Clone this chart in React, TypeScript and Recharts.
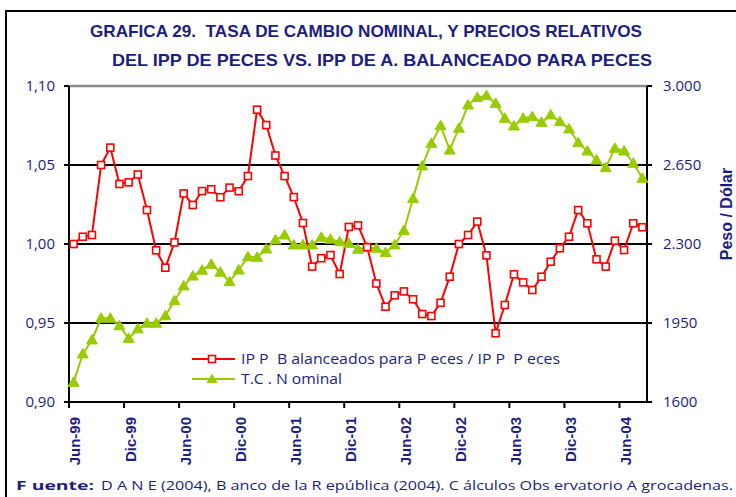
import React from "react"
import { LineChart, Line, XAxis, YAxis, ReferenceLine, Legend } from "recharts"

// IPP Balanceados para Peces / IPP Peces, monthly Jun-99 .. Aug-04
const ratio = [
  1.000, 1.0046, 1.0057, 1.050, 1.061, 1.038, 1.039, 1.044, 1.0215, 0.996,
  0.985, 1.001, 1.032, 1.0247, 1.0335, 1.0346, 1.0296, 1.0357, 1.0334, 1.043,
  1.085, 1.0753, 1.056, 1.043, 1.0297, 1.0133, 0.9857, 0.991, 0.993, 0.981,
  1.0108, 1.0118, 0.998, 0.975, 0.9603, 0.9675, 0.970, 0.965, 0.9557, 0.9544,
  0.9628, 0.9793, 1.000, 1.0057, 1.0142, 0.9928, 0.9435, 0.9614, 0.9808, 0.9757,
  0.9709, 0.9793, 0.9888, 0.9973, 1.0046, 1.0215, 1.0131, 0.9903, 0.9857, 1.0021,
  0.9962, 1.0131, 1.0106,
]

// Tasa de cambio nominal (peso / dólar)
const tcNominal = [
  1687, 1813, 1875, 1971, 1971, 1938, 1882, 1924, 1949, 1949,
  1982, 2049, 2114, 2158, 2184, 2210, 2175, 2133, 2185, 2243,
  2241, 2278, 2318, 2340, 2296, 2296, 2296, 2330, 2321, 2310,
  2303, 2277, 2285, 2281, 2262, 2296, 2360, 2502, 2646, 2746,
  2824, 2716, 2813, 2916, 2949, 2957, 2923, 2857, 2823, 2857,
  2864, 2839, 2872, 2842, 2810, 2749, 2712, 2672, 2638, 2724,
  2712, 2658, 2591,
]

const tickLabels = ["Jun-99", "Dic-99", "Jun-00", "Dic-00", "Jun-01", "Dic-01", "Jun-02", "Dic-02", "Jun-03", "Dic-03", "Jun-04"]
const leftTicks = [0.9, 0.95, 1.0, 1.05, 1.1]
const rightTicks = [1600, 1950, 2300, 2650, 3000]
const rightTickLabels = ["1600", "1950", "2.300", "2.650", "3.000"]

const data = ratio.map((r, i) => ({ x: i + 0.5, ratio: r, tc: tcNominal[i] }))
const xTicks = tickLabels.map((_, k) => k * 6 + 0.5)

const NAVY = "#1d1d82"
const RED = "#ff0000"
const GREEN = "#99cc00"

// plot box in page pixels
const PLOT_L = 69
const PLOT_R = 647
const HALF_CAT = (PLOT_R - PLOT_L) / data.length / 2

const SquareDot = (p: any) => (
  <rect key={`s${p.index}`} x={p.cx - 3.5} y={p.cy - 3.5} width={7} height={7} fill="#fff" stroke={RED} strokeWidth={1.6} />
)

const TriangleDot = (p: any) => (
  <polygon
    key={`t${p.index}`}
    points={`${p.cx},${p.cy - 5.5} ${p.cx - 5.5},${p.cy + 4} ${p.cx + 5.5},${p.cy + 4}`}
    fill={GREEN}
    stroke={GREEN}
    strokeWidth={1}
  />
)

const MonthTick = (props: any) => {
  const { x, y, payload } = props
  const k = Math.round((payload.value - 0.5) / 6)
  return (
    <g>
      <line x1={x - HALF_CAT} y1={y} x2={x - HALF_CAT} y2={y + 6} stroke="#000" strokeWidth={2} />
      <text
        transform={`translate(${x + 1.5},${y + 15}) rotate(-90)`}
        textAnchor="end"
        dy="0.36em"
        fill={NAVY}
        fontSize={15}
        fontWeight="bold"
        fontFamily="'Liberation Sans', Arial, sans-serif"
      >
        {tickLabels[k]}
      </text>
    </g>
  )
}

const LegendBox = () => (
  <svg width={440} height={40} style={{ display: "block", overflow: "visible" }}>
    <line x1={2} y1={8} x2={45} y2={8} stroke={RED} strokeWidth={2} />
    <rect x={18.5} y={4.5} width={7} height={7} fill="#fff" stroke={RED} strokeWidth={1.6} />
    <text x={51} y={13} fill={NAVY} fontSize={14} fontFamily="'Open Sans', sans-serif" textLength={319} lengthAdjust="spacingAndGlyphs" style={{ whiteSpace: "pre" }}>
      IP P  B alanceados para P eces / IP P  P eces
    </text>
    <line x1={2} y1={28} x2={45} y2={28} stroke={GREEN} strokeWidth={2} />
    <polygon points="22,22.5 16.5,32 27.5,32" fill={GREEN} />
    <text x={51} y={33} fill={NAVY} fontSize={14} fontFamily="'Open Sans', sans-serif" textLength={101} lengthAdjust="spacingAndGlyphs">
      T.C . N ominal
    </text>
  </svg>
)

const App = () => {
  return (
    <div style={{ position: "absolute", left: 0, top: 0, width: 736, height: 497, overflow: "hidden", background: "#fff" }}>
      {/* outer frame, cropped on the right and bottom */}
      <div style={{ position: "absolute", left: 5, top: 10, width: 800, height: 600, border: "2.5px solid #000", boxSizing: "border-box" }} />
      <svg width={736} height={497} style={{ position: "absolute", left: 0, top: 0 }}>
        <text x={90} y={37} fill={NAVY} fontSize={17} fontWeight="bold" fontFamily="'Liberation Sans Narrow', 'Liberation Sans', Arial, sans-serif" textLength={552} lengthAdjust="spacingAndGlyphs" style={{ whiteSpace: "pre" }}>
          GRAFICA 29.  TASA DE CAMBIO NOMINAL, Y PRECIOS RELATIVOS
        </text>
        <text x={112} y={66} fill={NAVY} fontSize={17} fontWeight="bold" fontFamily="'Liberation Sans Narrow', 'Liberation Sans', Arial, sans-serif" textLength={540} lengthAdjust="spacingAndGlyphs">
          DEL IPP DE PECES VS. IPP DE A. BALANCEADO PARA PECES
        </text>
        <text x={16} y={490} fill={NAVY} fontSize={13} fontWeight="bold" fontFamily="'Open Sans', sans-serif" textLength={78} lengthAdjust="spacingAndGlyphs">
          F uente:
        </text>
        <text x={101} y={490} fill={NAVY} fontSize={13} fontFamily="'Open Sans', sans-serif" textLength={632} lengthAdjust="spacingAndGlyphs">
          D A N E (2004), B anco de la R epública (2004). C álculos Obs ervatorio A grocadenas.
        </text>
        <text
          transform="translate(732,214) rotate(-90)"
          textAnchor="middle"
          fill={NAVY}
          fontSize={16}
          fontWeight="bold"
          fontFamily="'Liberation Sans', Arial, sans-serif"
        >
          Peso / Dólar
        </text>
      </svg>
      <div style={{ position: "absolute", left: 0, top: 0 }}>
        <LineChart width={736} height={497} data={data} margin={{ top: 86, right: 29, bottom: 35, left: 9 }}>
          <XAxis
            dataKey="x"
            type="number"
            domain={[0, data.length]}
            ticks={xTicks}
            tick={<MonthTick />}
            tickSize={0}
            tickMargin={0}
            tickLine={false}
            interval={0}
            height={60}
            axisLine={{ stroke: "#000", strokeWidth: 2 }}
          />
          <YAxis
            yAxisId="left"
            orientation="left"
            width={60}
            domain={[0.9, 1.1]}
            ticks={leftTicks}
            tickFormatter={(v: number) => v.toFixed(2).replace(".", ",")}
            tickSize={5}
            tickMargin={9}
            tick={{ fill: NAVY, fontSize: 15, fontFamily: "'Open Sans', sans-serif" }}
            tickLine={{ stroke: "#000", strokeWidth: 2 }}
            axisLine={{ stroke: "#000", strokeWidth: 2 }}
            interval={0}
            allowDataOverflow
          />
          <YAxis
            yAxisId="right"
            orientation="right"
            width={60}
            domain={[1600, 3000]}
            ticks={rightTicks}
            tickFormatter={(v: number) => rightTickLabels[rightTicks.indexOf(v)]}
            tickSize={5}
            tickMargin={11}
            tick={{ fill: NAVY, fontSize: 15, textAnchor: "start", fontFamily: "'Open Sans', sans-serif" }}
            tickLine={{ stroke: "#000", strokeWidth: 2 }}
            axisLine={{ stroke: "#000", strokeWidth: 2 }}
            interval={0}
            allowDataOverflow
          />
          <ReferenceLine yAxisId="left" y={1.1} stroke="#8c8c8c" strokeWidth={2.5} />
          <ReferenceLine yAxisId="left" y={1.05} stroke="#000" strokeWidth={2} />
          <ReferenceLine yAxisId="left" y={1.0} stroke="#000" strokeWidth={2} />
          <ReferenceLine yAxisId="left" y={0.95} stroke="#000" strokeWidth={2} />
          <Legend
            layout="horizontal"
            verticalAlign="middle"
            align="center"
            content={<LegendBox />}
            wrapperStyle={{ position: "absolute", left: 190, top: 351, width: 440, height: 40 }}
          />
          <Line
            yAxisId="right"
            dataKey="tc"
            stroke={GREEN}
            strokeWidth={2}
            dot={TriangleDot}
            activeDot={false}
            isAnimationActive={false}
          />
          <Line
            yAxisId="left"
            dataKey="ratio"
            stroke={RED}
            strokeWidth={2}
            dot={SquareDot}
            activeDot={false}
            isAnimationActive={false}
          />
        </LineChart>
      </div>
    </div>
  )
}

export default App
